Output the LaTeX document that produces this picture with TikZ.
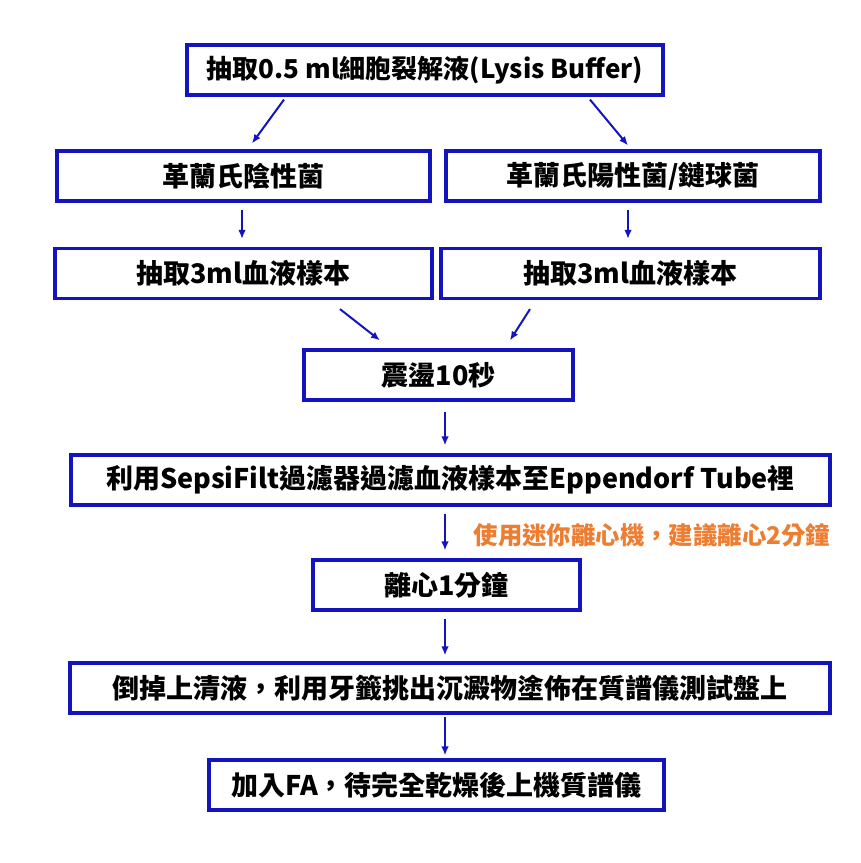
\documentclass[tikz,border=0pt]{standalone}
\usepackage{fontspec}
\setmainfont{Noto Sans CJK TC}
\usetikzlibrary{arrows.meta}
\definecolor{boxblue}{RGB}{20,20,190}
\definecolor{noteorange}{RGB}{237,125,49}
\begin{document}
\begin{tikzpicture}[x=1pt,y=-1pt,
    box/.style={draw=boxblue, line width=3.2pt, minimum height=50pt, inner sep=0pt,
      font=\fontsize{27}{27}\selectfont\bfseries},
    arr/.style={-{Latex[length=9pt,width=7.5pt]}, boxblue, line width=2pt}]
	\useasboundingbox (0,0) rectangle (861,863);
	\node[box, minimum width=476pt, font=\fontsize{26}{26}\selectfont\bfseries] (lysis) at (425,70) {抽取0.5 ml細胞裂解液(Lysis Buffer)};
	\node[box, minimum width=373pt] (neg) at (243.5,176) {革蘭氏陰性菌};
	\node[box, minimum width=374pt] (pos) at (633,176) {革蘭氏陽性菌/鏈球菌};
	\node[box, minimum width=377pt] (drawL) at (243.5,273.5) {抽取3ml血液樣本};
	\node[box, minimum width=379pt] (drawR) at (630.5,273.5) {抽取3ml血液樣本};
	\node[box, minimum width=269pt] (vortex) at (438.5,375) {震盪10秒};
	\node[box, minimum width=759pt] (filter) at (450.5,480) {利用SepsiFilt過濾器過濾血液樣本至Eppendorf Tube裡};
	\node[box, minimum width=267pt] (spin) at (446.5,585) {離心1分鐘};
	\node[box, minimum width=760pt] (sup) at (450,688) {倒掉上清液，利用牙籤挑出沉澱物塗佈在質譜儀測試盤上};
	\node[box, minimum width=455pt] (fa) at (436.5,785) {加入FA，待完全乾燥後上機質譜儀};
	\node[noteorange, font=\fontsize{24.4}{24.4}\selectfont\bfseries] (note) at (652,535) {使用迷你離心機，建議離心2分鐘};
	% arrows
	\draw[arr] ([xshift=-141pt,yshift=-3pt]lysis.south) -- ([xshift=8.5pt,yshift=6pt]neg.north);
	\draw[arr] ([xshift=165pt,yshift=-3pt]lysis.south) -- ([xshift=-5pt,yshift=4pt]pos.north);
	\draw[arr] ([xshift=-1.5pt,yshift=-7pt]neg.south) -- ([xshift=-1.5pt,yshift=8pt]drawL.north);
	\draw[arr] ([xshift=-5pt,yshift=-7pt]pos.south) -- ([xshift=-2.5pt,yshift=8pt]drawR.north);
	\draw[arr] ([xshift=96.5pt,yshift=-9pt]drawL.south) -- ([xshift=-58.5pt,yshift=8pt]vortex.north);
	\draw[arr] ([xshift=-100.5pt,yshift=-9pt]drawR.south) -- ([xshift=71.5pt,yshift=8pt]vortex.north);
	\draw[arr] ([xshift=6.5pt,yshift=-10pt]vortex.south) -- ([xshift=-5.5pt,yshift=8pt]filter.north);
	\draw[arr] ([xshift=-5.5pt,yshift=-7pt]filter.south) -- ([xshift=-1.5pt,yshift=8pt]spin.north);
	\draw[arr] ([xshift=-1.5pt,yshift=-7pt]spin.south) -- ([xshift=-5pt,yshift=6pt]sup.north);
	\draw[arr] ([xshift=-5pt,yshift=-2pt]sup.south) -- ([xshift=8.5pt,yshift=3pt]fa.north);
\end{tikzpicture}
\end{document}
